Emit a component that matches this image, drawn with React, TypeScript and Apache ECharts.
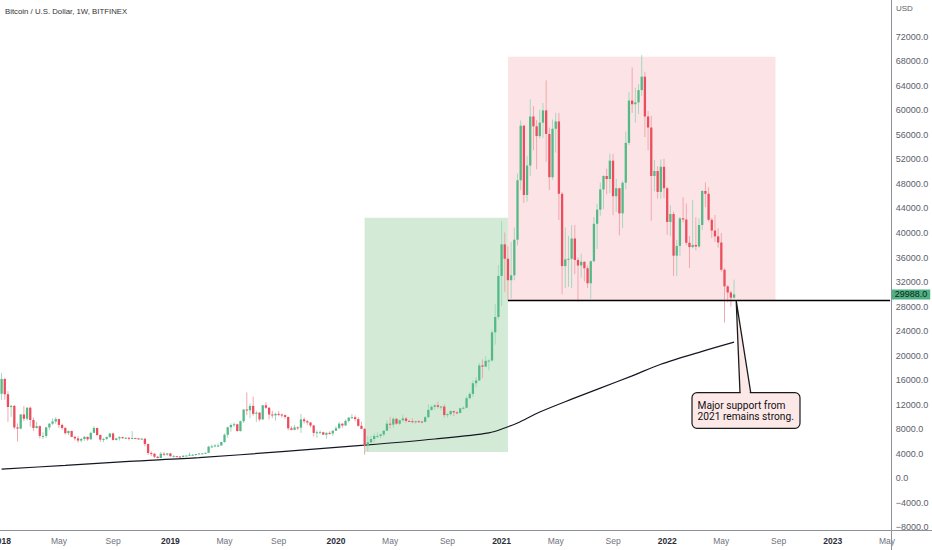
import React, { useEffect, useRef } from "react";
import * as echarts from "echarts";

const FONT = "'Liberation Sans', Arial, sans-serif";

// weekly categories (Monday of each week), Jan 2018 .. May 2023
const START = Date.UTC(2018, 0, 1);
const WEEK_MS = 7 * 86400000;
const WEEK_COUNT = 280;
const weeks: string[] = [];
for (let i = 0; i < WEEK_COUNT; i++) {
  weeks.push(new Date(START + i * WEEK_MS).toISOString().slice(0, 10));
}

// weekly candles: [open, high, low, close]
const w2018 = [
  [13800, 17200, 12750, 16200], [16200, 16400, 12800, 13700], [13700, 14200, 9200, 11600], [11600, 12000, 10000, 11800],
  [11800, 11950, 8000, 8300], [8300, 8950, 6000, 8100], [8100, 10500, 8000, 10400], [10400, 11800, 9300, 9700],
  [9700, 11600, 9400, 11500], [11500, 11700, 8400, 9500], [9500, 9900, 7700, 8200], [8200, 9200, 8100, 8500],
  [8500, 8600, 6500, 6900], [6900, 7500, 6400, 6900], [6900, 8400, 6600, 8300], [8300, 9000, 7900, 8900],
  [8900, 9750, 8700, 9250], [9250, 9950, 8900, 9650], [9650, 9700, 8200, 8700], [8700, 8900, 7900, 8200],
  [8200, 8400, 7100, 7350], [7350, 7800, 7050, 7700], [7700, 7800, 6700, 6750], [6750, 6900, 6150, 6500],
  [6500, 6900, 5800, 6150], [6150, 6600, 5850, 6400], [6400, 6900, 6100, 6750], [6750, 6800, 6100, 6350],
  [6350, 7600, 6300, 7400], [7400, 8500, 7400, 8200], [8200, 8250, 6900, 7050], [7050, 7150, 5950, 6300],
  [6300, 6600, 5900, 6400], [6400, 6850, 6250, 6700], [6700, 7400, 6650, 7300], [7300, 7450, 6150, 6250],
  [6250, 6600, 6150, 6500], [6500, 6850, 6150, 6700], [6700, 6800, 6400, 6600], [6600, 6700, 6450, 6600],
  [6600, 6700, 6150, 6500], [6500, 7700, 6450, 6550], [6550, 6600, 6450, 6500], [6500, 6550, 6300, 6400],
  [6400, 6600, 6350, 6450], [6450, 6550, 5200, 5600], [5600, 5650, 3800, 4100], [4100, 4400, 3600, 4000],
  [4000, 4100, 3300, 3500], [3500, 3600, 3250, 3300], [3300, 4300, 3250, 4000], [4000, 4250, 3600, 3850],
];
const w2019 = [
  [3850, 4100, 3650, 4050], [4050, 4150, 3500, 3600], [3600, 3800, 3550, 3600], [3600, 3650, 3500, 3550],
  [3550, 3600, 3400, 3450], [3450, 3750, 3400, 3650], [3650, 3700, 3600, 3700], [3700, 4200, 3700, 3850],
  [3850, 3950, 3750, 3850], [3850, 3950, 3700, 3950], [3950, 4050, 3850, 4050], [4050, 4100, 3950, 4050],
  [4050, 4200, 3950, 4150], [4150, 5300, 4100, 5150], [5150, 5500, 4950, 5200], [5200, 5550, 5050, 5350],
  [5350, 5650, 5050, 5350], [5350, 5950, 5300, 5900], [5900, 7300, 5800, 7100], [7100, 8400, 6600, 8300],
  [8300, 8950, 7600, 8700], [8700, 9100, 8400, 8800], [8800, 8900, 7600, 7700], [7700, 9400, 7600, 9300],
  [9300, 11300, 9000, 11200], [11200, 14000, 10300, 11100], [11100, 12200, 9800, 11800], [11800, 13300, 10200, 10500],
  [10500, 11000, 9200, 10700], [10700, 10800, 9300, 9600], [9600, 11900, 9500, 11900], [11900, 12400, 11300, 11500],
  [11500, 11600, 9600, 10400], [10400, 11000, 9800, 10250], [10250, 10700, 9400, 10500], [10500, 10950, 10100, 10400],
  [10400, 10550, 9900, 10300], [10300, 10400, 9700, 10000], [10000, 10050, 7800, 8150], [8150, 8500, 7800, 7900],
  [7900, 8700, 7800, 8300], [8300, 8450, 7850, 8250], [8250, 10500, 7400, 9600], [9600, 9950, 8950, 9300],
  [9300, 9500, 8700, 9100], [9100, 9200, 8300, 8600], [8600, 8700, 6800, 7400], [7400, 7850, 6600, 7500],
  [7500, 7800, 7300, 7500], [7500, 7600, 7100, 7100], [7100, 7500, 6450, 7400], [7400, 7650, 7100, 7300],
];
const w2020 = [
  [7300, 7800, 6900, 7750], [7750, 8500, 7700, 8150], [8150, 9200, 8100, 8900], [8900, 8950, 8250, 8600],
  [8600, 9600, 8550, 9350], [9350, 9900, 9100, 9900], [9900, 10500, 9700, 9950], [9950, 10250, 9300, 9650],
  [9650, 9950, 8400, 8550], [8550, 9200, 8000, 8050], [8050, 8200, 3850, 5350], [5350, 6900, 4400, 5850],
  [5850, 6950, 5700, 6400], [6400, 7300, 5850, 6900], [6900, 7500, 6500, 6900], [6900, 7300, 6500, 7150],
  [7150, 7800, 6800, 7750], [7750, 9450, 7700, 8900], [8900, 10050, 8100, 8750], [8750, 9950, 8200, 9700],
  [9700, 9850, 8700, 8900], [8900, 9600, 8650, 9450], [9450, 10400, 9250, 9750], [9750, 10000, 9000, 9350],
  [9350, 9550, 9200, 9300], [9300, 9800, 8950, 9150], [9150, 9400, 8900, 9300], [9300, 9450, 9100, 9250],
  [9250, 9350, 9050, 9200], [9200, 10150, 9100, 9950], [9950, 12100, 9900, 11150], [11150, 11900, 11000, 11650],
  [11650, 12100, 11150, 11900], [11900, 12500, 11350, 11650], [11650, 11800, 11100, 11700], [11700, 12100, 9900, 10300],
  [10300, 10600, 9900, 10450], [10450, 11100, 10200, 10950], [10950, 11000, 10150, 10750], [10750, 10950, 10400, 10650],
  [10650, 11500, 10550, 11400], [11400, 11750, 11250, 11500], [11500, 13350, 11400, 13050], [13050, 14100, 12900, 13750],
  [13750, 15950, 13250, 15500], [15500, 16500, 14850, 15950], [15950, 18800, 15850, 18400], [18400, 19400, 16300, 18200],
  [18200, 19900, 18150, 19150], [19150, 19400, 17600, 19200], [19200, 24200, 19000, 23800], [23800, 28400, 21800, 26300],
];
const w2021 = [
  [26300, 34800, 25900, 33000], [33000, 41950, 28100, 38150], [38150, 40100, 30400, 35800], [35800, 37850, 28900, 32300],
  [32300, 38550, 29300, 33100], [33100, 40900, 32300, 38900], [38900, 49700, 37950, 48600], [48600, 58350, 47000, 57500],
  [57500, 57600, 44900, 46200], [46200, 52600, 45100, 51000], [51000, 61800, 49300, 59000], [59000, 60700, 53500, 57400],
  [57400, 58450, 50400, 55800], [55800, 60100, 55400, 58000], [58000, 61200, 55500, 60000], [60000, 64900, 51600, 56150],
  [56150, 57200, 47000, 49100], [49100, 58500, 48700, 57000], [57000, 59600, 53100, 58200], [58200, 59600, 42100, 46400],
  [46400, 46700, 30000, 34600], [34600, 40900, 31000, 35700], [35700, 39500, 31200, 35800], [35800, 41300, 31000, 39100],
  [39100, 41300, 33300, 35600], [35600, 36000, 28800, 34700], [34700, 36600, 32700, 35300], [35300, 35400, 32100, 34250],
  [34250, 34700, 31000, 31800], [31800, 35500, 29300, 35400], [35400, 42600, 35200, 41500], [41500, 44800, 37400, 43800],
  [43800, 48200, 42800, 47100], [47100, 49400, 43900, 49300], [49300, 50500, 46300, 48800], [48800, 52950, 46500, 51800],
  [51800, 52900, 42900, 46000], [46000, 48850, 43400, 47300], [47300, 47350, 39600, 43200], [43200, 48500, 40800, 48200],
  [48200, 56550, 47100, 54700], [54700, 62950, 54350, 61600], [61600, 67000, 59600, 61000], [61000, 63700, 58000, 61300],
  [61300, 64300, 59400, 63300], [63300, 69000, 62300, 65500], [65500, 66300, 55650, 59000], [59000, 59900, 53500, 57200],
  [57200, 59100, 42000, 49300], [49300, 51950, 46800, 50100], [50100, 50900, 45600, 46700], [46700, 52000, 45600, 50800],
];
const w2022 = [
  [50800, 52100, 45700, 47300], [47300, 47550, 39700, 41800], [41800, 44500, 39500, 43100], [43100, 43500, 33000, 36300],
  [36300, 38900, 32950, 37900], [37900, 42600, 36250, 42400], [42400, 45850, 41700, 42200], [42200, 44800, 38000, 38400],
  [38400, 39500, 34300, 37700], [37700, 45400, 37500, 38050], [38050, 42550, 37200, 37800], [37800, 42350, 37600, 41300],
  [41300, 47000, 40500, 46850], [46850, 48250, 44200, 46400], [46400, 47450, 41900, 42150], [42150, 42450, 39200, 40400],
  [40400, 42950, 38550, 39450], [39450, 40800, 37600, 38450], [38450, 40000, 33700, 34000], [34000, 34250, 25400, 31300],
  [31300, 31500, 28700, 30300], [30300, 30600, 28000, 29450], [29450, 32400, 29300, 29988],
];

// 200-week moving average, read at selected weeks: [week index, value]
const maPoints = [
  [0, 1500], [20, 2100], [40, 2750], [62, 3350], [88, 4350], [114, 5400], [136, 6400], [153, 7400],
  [159, 8400], [162, 9000], [169, 10800], [179, 12900], [188, 14700], [198, 16700], [207, 18600],
  [220, 20700], [230, 22200],
];

// annotation zones: [fromWeek, toWeek, low, high]
const greenZone = [114, 159, 4300, 42500];
const redZone = [159, 243, 28950, 68750];
const supportLevel = 29000;
const supportFromWeek = 159;

const yTicks = { min: -8000, max: 78000, step: 4000, highestLabel: 72000 };

const UP = "#53b987";
const DOWN = "#eb4d5c";
const WICK_UP = "#a3d8be";
const WICK_DOWN = "#f2a7ae";

export default function App() {
  const ref = useRef<HTMLDivElement>(null);

  useEffect(() => {
    if (!ref.current) return;
    const chart = echarts.init(ref.current, undefined, { renderer: "svg" });

    const all = [...w2018, ...w2019, ...w2020, ...w2021, ...w2022];
    const candleData = all.map((d, i) => [i, d[0], d[3], d[2], d[1]]);
    const lastClose = all[all.length - 1][3];

    const labelMap: Record<number, string> = {};
    for (let i = 0; i < WEEK_COUNT; i++) {
      const d = new Date(START + i * WEEK_MS);
      const p = new Date(START + (i - 1) * WEEK_MS);
      if (i === 0 || d.getUTCMonth() !== p.getUTCMonth()) {
        const m = d.getUTCMonth();
        if (m === 0) labelMap[i] = `{y|${d.getUTCFullYear()}}`;
        else if (m === 4) labelMap[i] = "{m|May}";
        else if (m === 8) labelMap[i] = "{m|Sep}";
      }
    }

    const renderItem = (params: any, api: any) => {
      const i = api.value(0);
      const o = api.value(1);
      const c = api.value(2);
      const l = api.value(3);
      const h = api.value(4);
      const pO = api.coord([i, o]);
      const pC = api.coord([i, c]);
      const pL = api.coord([i, l]);
      const pH = api.coord([i, h]);
      const w = api.size([1, 0])[0] * 0.72;
      const up = c >= o;
      const top = Math.min(pO[1], pC[1]);
      const hgt = Math.max(Math.abs(pO[1] - pC[1]), 1);
      return {
        type: "group",
        children: [
          {
            type: "line",
            shape: { x1: pO[0], y1: pH[1], x2: pO[0], y2: pL[1] },
            style: { stroke: up ? WICK_UP : WICK_DOWN, lineWidth: 1 },
          },
          {
            type: "rect",
            shape: { x: pO[0] - w / 2, y: top, width: w, height: hgt },
            style: { fill: up ? UP : DOWN },
          },
        ],
      };
    };

    const option: any = {
      animation: false,
      backgroundColor: "#ffffff",
      textStyle: { fontFamily: FONT },
      grid: {
        left: 0,
        right: 40.3,
        top: 0,
        bottom: 22.7,
        containLabel: false,
        outerBoundsMode: "none",
      },
      xAxis: {
        type: "category",
        data: weeks,
        boundaryGap: true,
        axisLine: { show: false },
        axisTick: { show: false },
        splitLine: { show: false },
        axisLabel: {
          interval: (idx: number) => labelMap[idx] !== undefined,
          formatter: (_v: string, idx: number) => labelMap[idx] ?? "",
          margin: 9,
          hideOverlap: false,
          rich: {
            y: { fontSize: 8.5, fontWeight: "bold", color: "#2a2e39", fontFamily: FONT },
            m: { fontSize: 8.5, color: "#6f727c", fontFamily: FONT },
          },
        },
      },
      yAxis: {
        type: "value",
        position: "right",
        min: yTicks.min,
        max: yTicks.max,
        interval: yTicks.step,
        axisLine: { show: false },
        axisTick: { show: false },
        splitLine: { show: false },
        axisLabel: {
          showMaxLabel: false,
          margin: 4,
          color: "#5d606b",
          fontSize: 9,
          fontFamily: FONT,
          formatter: (v: number) =>
            v > yTicks.highestLabel ? "" : (v < 0 ? "\u2212" : "") + Math.abs(v).toFixed(1),
        },
      },
      series: [
        {
          type: "line",
          data: [],
          z: 1,
          silent: true,
          markArea: {
            silent: true,
            data: [
              [
                { coord: [greenZone[0], greenZone[2]], itemStyle: { color: "#d3ebd6" } },
                { coord: [greenZone[1], greenZone[3]] },
              ],
              [
                { coord: [redZone[0], redZone[2]], itemStyle: { color: "#fce4e6" } },
                { coord: [redZone[1], redZone[3]] },
              ],
            ],
          },
        },
        {
          type: "line",
          data: maPoints,
          showSymbol: false,
          smooth: 0.3,
          silent: true,
          z: 2,
          lineStyle: { color: "#131722", width: 1.2 },
        },
        {
          type: "custom",
          data: candleData,
          encode: { x: 0, y: [1, 2, 3, 4] },
          renderItem,
          z: 3,
          silent: true,
        },
        {
          type: "line",
          data: [],
          z: 5,
          silent: true,
          markLine: {
            silent: true,
            symbol: "none",
            label: { show: false },
            data: [
              [
                { coord: [supportFromWeek, supportLevel], lineStyle: { color: "#000000", width: 1.4, type: "solid" } },
                { coord: [WEEK_COUNT - 1, supportLevel] },
              ],
              {
                yAxis: lastClose,
                lineStyle: { color: "rgba(0,0,0,0)", width: 0 },
                label: {
                  show: true,
                  position: "end",
                  distance: 0,
                  formatter: lastClose.toFixed(1),
                  backgroundColor: "#4fb083",
                  color: "#0f1f17",
                  fontSize: 9,
                  fontFamily: FONT,
                  padding: [1, 3, 0, 3],
                },
              },
            ],
          },
        },
      ],
      graphic: [
        {
          type: "line",
          z: 50,
          silent: true,
          shape: { x1: 891.5, y1: 0, x2: 891.5, y2: 550 },
          style: { stroke: "#8e919a", lineWidth: 1 },
        },
        {
          type: "line",
          z: 50,
          silent: true,
          shape: { x1: 0, y1: 530.5, x2: 932, y2: 530.5 },
          style: { stroke: "#8e919a", lineWidth: 1 },
        },
        {
          type: "text",
          z: 50,
          x: 5,
          y: 11.5,
          style: {
            text: "Bitcoin / U.S. Dollar, 1W, BITFINEX",
            fontSize: 7.8,
            fontFamily: FONT,
            fill: "#333333",
            align: "left",
            verticalAlign: "middle",
          },
        },
        {
          type: "text",
          z: 50,
          x: 896,
          y: 8.5,
          style: { text: "USD", fontSize: 8, fontFamily: FONT, fill: "#5d606b", align: "left", verticalAlign: "middle" },
        },
        {
          type: "rect",
          z: 60,
          shape: { x: 692, y: 392.7, width: 108, height: 35.6, r: 5 },
          style: { fill: "#fde8e8", stroke: "#1a1a1a", lineWidth: 1.2 },
        },
        {
          type: "polygon",
          z: 61,
          shape: { points: [[740.7, 394.2], [750.0, 394.2], [736.2, 301.5]] },
          style: { fill: "#fde8e8" },
        },
        {
          type: "polyline",
          z: 62,
          shape: { points: [[740.0, 392.7], [736.2, 300.7], [750.7, 392.7]] },
          style: { stroke: "#1a1a1a", lineWidth: 1.3, fill: null },
        },
        {
          type: "text",
          z: 63,
          x: 697.5,
          y: 399.5,
          style: {
            text: "Major support from\n2021 remains strong.",
            fontSize: 10.2,
            lineHeight: 11,
            fontFamily: "Roboto, 'Liberation Sans', sans-serif",
            fill: "#111111",
            align: "left",
            verticalAlign: "top",
          },
        },
      ],
    };

    chart.setOption(option);
    return () => chart.dispose();
  }, []);

  return (
    <div
      ref={ref}
      style={{ position: "fixed", left: 0, top: 0, width: 932, height: 550, background: "#fff" }}
    />
  );
}
